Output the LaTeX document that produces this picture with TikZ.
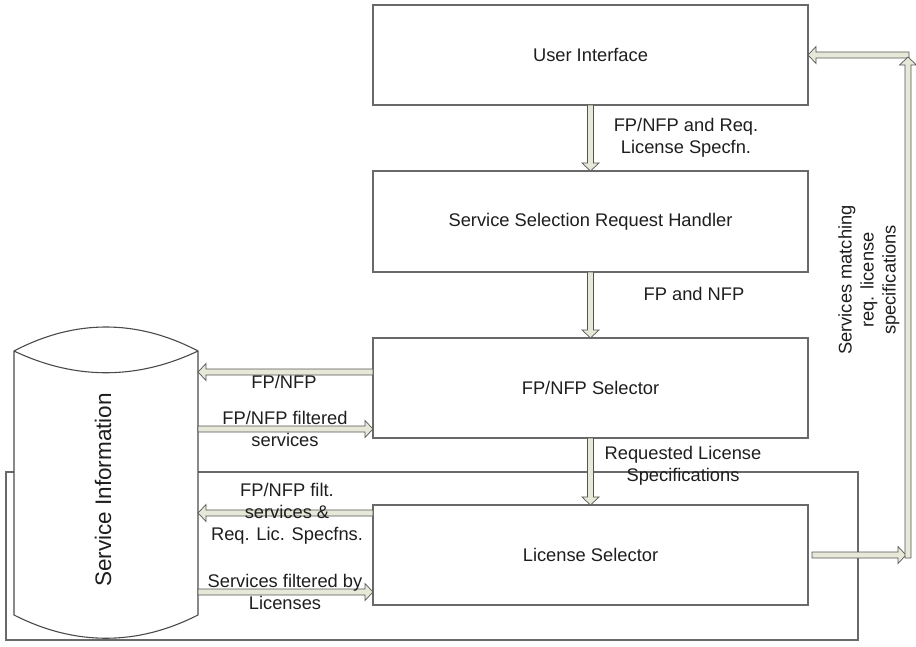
\documentclass[tikz,border=0pt]{standalone}
\usepackage{fontspec}
\setmainfont{Liberation Sans}
\usetikzlibrary{calc}
\definecolor{boxline}{RGB}{105,105,105}
\definecolor{arrowfill}{RGB}{231,232,216}
\definecolor{arrowline}{RGB}{85,85,85}
\definecolor{txt}{RGB}{30,30,30}
\newcommand\lblfont{\fontsize{18.3pt}{22pt}\selectfont}
\newcommand\bigfont{\fontsize{22.5pt}{27pt}\selectfont}
\tikzset{
  mbox/.style={draw=boxline, line width=1.1pt, fill=white, minimum width=435pt,
    minimum height=100pt, inner sep=0pt, outer sep=0pt, font=\lblfont, text=txt},
  grpbox/.style={draw=boxline, line width=1.1pt, minimum width=852pt,
    minimum height=168pt, inner sep=0pt, outer sep=0pt},
  cyl/.style={draw=boxline!70!black, line width=1.1pt, fill=white},
  lbl/.style={font=\lblfont, text=txt, align=center, inner sep=0pt},
  blockarrow/.style={draw=arrowline, fill=arrowfill, line width=0.7pt, line join=miter,
    to path={
      ($(\tikztostart)!3pt!90:(\tikztotarget)$)
      -- ($(\tikztotarget)!8pt!(\tikztostart)!3pt!-90:(\tikztostart)$)
      -- ($(\tikztotarget)!8pt!(\tikztostart)!8.5pt!-90:(\tikztostart)$)
      -- (\tikztotarget)
      -- ($(\tikztotarget)!8pt!(\tikztostart)!8.5pt!90:(\tikztostart)$)
      -- ($(\tikztotarget)!8pt!(\tikztostart)!3pt!90:(\tikztostart)$)
      -- ($(\tikztostart)!3pt!-90:(\tikztotarget)$)
      -- cycle}}
}
\begin{document}
\begin{tikzpicture}[x=1pt,y=-1pt]
\useasboundingbox (0,0) rectangle (916,647);
% group frame
\node[grpbox] (grp) at (432,556) {};
% main boxes
\node[mbox] (ui) at (590.5,55) {User Interface};
\node[mbox, minimum height=101pt] (ssrh) at (590.5,221.5) {Service Selection Request Handler};
\node[mbox] (fps) at (590.5,388) {FP/NFP Selector};
\node[mbox] (ls) at (590.5,555) {License Selector};
% cylinder
\node[inner sep=0pt, outer sep=0pt, minimum width=184pt, minimum height=264pt] (si) at (106,483) {};
\draw[cyl] (si.north west) .. controls +(61,-32) and +(-61,-32) .. (si.north east)
  -- (si.south east) .. controls +(-61,31) and +(61,31) .. (si.south west) -- cycle;
\draw[cyl, fill=none] (si.north west) .. controls +(61,29) and +(-61,29) .. (si.north east);
\node[lbl, font=\bigfont, rotate=90] (silbl) at (103,490) {Service Information};
% arrow endpoints
\coordinate (a4s) at ($(fps.west)+(0,-16)$);
\coordinate (a4t) at ($(si.east |- fps.west)+(0,-16)$);
\coordinate (a5s) at ($(si.east |- fps.west)+(0,41)$);
\coordinate (a5t) at ($(fps.west)+(0,41)$);
\coordinate (a6s) at ($(ls.west)+(0,-42)$);
\coordinate (a6t) at ($(si.east |- ls.west)+(0,-42)$);
\coordinate (a7s) at ($(si.east |- ls.west)+(0,37)$);
\coordinate (a7t) at ($(ls.west)+(0,37)$);
\coordinate (r1s) at ($(ls.east)+(4,0)$);
\coordinate (r1t) at ($(ls.east)+(98,0)$);
\coordinate (r2s) at ($(ls.east)+(100,3)$);
\coordinate (r2t) at ($(ui.east)+(100,2)$);
\coordinate (r3s) at ($(ui.east)+(101,0)$);
% arrows
\path[blockarrow] (ui.south) to (ssrh.north);
\path[blockarrow] (ssrh.south) to (fps.north);
\path[blockarrow] (fps.south) to (ls.north);
\path[blockarrow] (a4s) to (a4t);
\path[blockarrow] (a5s) to (a5t);
\path[blockarrow] (a6s) to (a6t);
\path[blockarrow] (a7s) to (a7t);
\path[blockarrow] (r1s) to (r1t);
\path[blockarrow] (r3s) to (ui.east);
\path[blockarrow] (r2s) to (r2t);
% labels
\node[lbl] (l1) at (686,138) {FP/NFP and Req.\\License Specfn.};
\node[lbl] (l2) at (694,294) {FP and NFP};
\node[lbl] (l3) at (683,466) {Requested License\\Specifications};
\node[lbl] (l4) at (284,382) {FP/NFP};
\node[lbl] (l5) at (285,429) {FP/NFP filtered\\services};
\node[lbl] (l6) at (287,514) {FP/NFP filt.\\services \&\\Req. Lic. Specfns.};
\node[lbl] (l7) at (285,592) {Services filtered by\\Licenses};
\node[lbl, rotate=90] (l8) at (869,280) {Services matching\\req. license\\specifications};
\end{tikzpicture}
\end{document}
